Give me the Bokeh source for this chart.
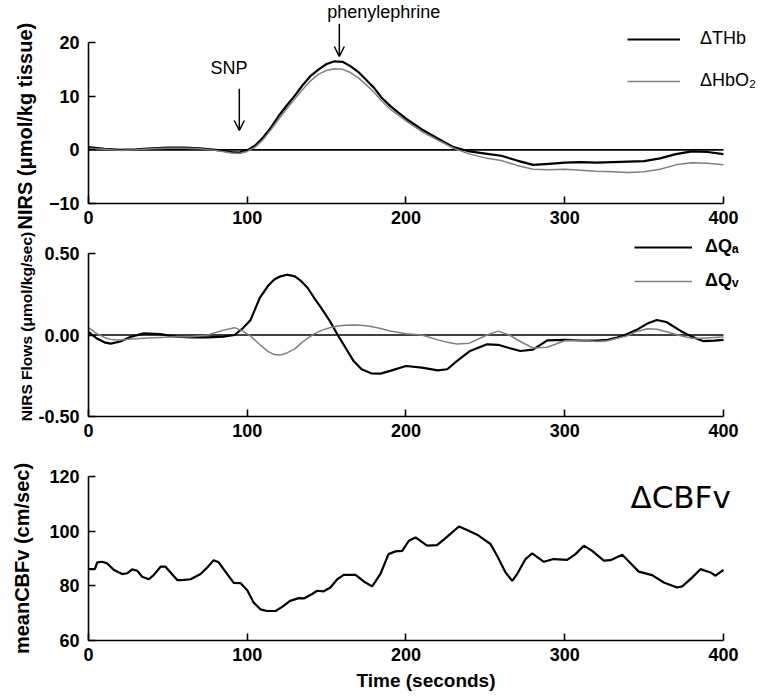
from bokeh.plotting import figure
from bokeh.models import (Label, Arrow, OpenHead, Legend, LegendItem,
                          FixedTicker, NumeralTickFormatter, Range1d)
from bokeh.layouts import column
from bokeh.embed import file_html
from bokeh.resources import INLINE

# ---------------- data ----------------
t_nirs = [0, 10, 20, 30, 40, 50, 60, 70, 80, 90, 95, 100, 105, 110, 115, 120, 125, 130,
          135, 140, 145, 150, 155, 160, 165, 170, 175, 180, 185, 190, 195, 200, 210, 220,
          230, 240, 250, 260, 270, 280, 290, 300, 310, 320, 330, 340, 350, 360, 370, 380,
          390, 400]
thb = [0.5, 0.2, 0.0, 0.1, 0.3, 0.4, 0.4, 0.3, 0.0, -0.4, -0.5, -0.1, 0.8, 2.3, 4.2, 6.4,
       8.3, 10.1, 12.1, 13.8, 15.0, 16.0, 16.5, 16.4, 15.6, 14.5, 13.0, 11.5, 9.6, 8.2, 7.0,
       5.8, 3.8, 2.1, 0.5, -0.3, -0.7, -1.1, -2.0, -2.8, -2.6, -2.4, -2.3, -2.4, -2.3, -2.2,
       -2.1, -1.6, -0.8, -0.3, -0.4, -0.8]
hbo2 = [0.3, 0.1, -0.1, 0.0, 0.2, 0.3, 0.3, 0.2, -0.1, -0.6, -0.7, -0.3, 0.5, 1.9, 3.8, 5.8,
        7.7, 9.5, 11.3, 12.9, 14.1, 14.8, 15.1, 15.0, 14.4, 13.4, 12.1, 10.7, 9.0, 7.6, 6.5,
        5.4, 3.4, 1.8, 0.3, -0.8, -1.5, -2.0, -2.9, -3.6, -3.7, -3.6, -3.8, -4.0, -4.1, -4.2,
        -4.1, -3.6, -2.8, -2.4, -2.5, -2.8]

t_flow = [0, 5, 10, 14, 20, 27, 35, 45, 55, 65, 75, 85, 92, 97, 102, 108, 113, 117, 121,
          125, 130, 134, 138, 142, 147, 152, 157, 162, 167, 172, 178, 184, 190, 200, 210,
          220, 226, 232, 240, 251, 258, 265, 272, 280, 289, 300, 310, 320, 327, 333, 339,
          345, 352, 358, 364, 373, 380, 387, 394, 400]
qa = [0.02, -0.02, -0.045, -0.053, -0.04, -0.01, 0.01, 0.005, -0.01, -0.015, -0.015, -0.01,
      0.0, 0.04, 0.09, 0.23, 0.30, 0.34, 0.36, 0.37, 0.36, 0.33, 0.29, 0.23, 0.16, 0.086,
      0.0, -0.08, -0.16, -0.21, -0.235, -0.237, -0.22, -0.19, -0.20, -0.217, -0.21, -0.16,
      -0.10, -0.057, -0.06, -0.08, -0.098, -0.09, -0.033, -0.03, -0.033, -0.035, -0.03,
      -0.015, 0.004, 0.03, 0.07, 0.092, 0.08, 0.025, -0.01, -0.037, -0.035, -0.03]
qv = [0.045, 0.01, -0.015, -0.027, -0.03, -0.025, -0.02, -0.015, -0.01, -0.01, 0.0, 0.03,
      0.045, 0.025, -0.006, -0.06, -0.10, -0.12, -0.123, -0.11, -0.085, -0.05, -0.02, 0.005,
      0.03, 0.045, 0.055, 0.06, 0.061, 0.06, 0.052, 0.04, 0.025, 0.008, 0.0, -0.03, -0.045,
      -0.055, -0.05, 0.0, 0.024, 0.0, -0.04, -0.08, -0.075, -0.035, -0.03, -0.04, -0.035,
      -0.02, -0.006, 0.02, 0.038, 0.035, 0.02, -0.005, -0.02, -0.02, -0.015, -0.012]

t_cbfv = [0, 4, 5.5, 8.6, 11.8, 16, 21.2, 24.4, 27.5, 30.7, 33.8, 38, 41.2, 45.4, 48.5, 51.7,
          55.9, 59, 64.3, 70.6, 74.8, 78.9, 82, 87.4, 91.5, 95.7, 100, 104, 108.3, 112.5,
          117.8, 122, 127, 132.5, 135.6, 140.9, 144, 148.2, 152.4, 156.7, 160.8, 168.2,
          173.4, 178.7, 184, 189, 193.4, 197.6, 201.8, 206, 213.3, 219.6, 226, 233.3, 238.5,
          244.8, 253.2, 257.4, 262.7, 266.9, 270, 275.3, 279.5, 286.8, 293.1, 301.5, 306.8,
          312, 317.3, 324.6, 328.8, 336.2, 340.4, 346.6, 355, 362.4, 370.8, 374, 380.2,
          385.5, 391.8, 395, 400]
cbfv = [86.1, 86.1, 88.6, 88.8, 88.2, 85.8, 84.3, 84.6, 86.0, 85.5, 83.3, 82.4, 84.0, 87.0,
        87.0, 84.9, 82.1, 82.1, 82.4, 84.3, 86.7, 89.4, 88.6, 84.3, 81.1, 81.0, 78.4, 73.9,
        71.4, 70.8, 70.8, 72.3, 74.5, 75.5, 75.4, 77.0, 78.2, 78.0, 79.4, 82.4, 84.0, 84.0,
        81.6, 79.8, 84.5, 91.6, 92.6, 92.8, 96.5, 97.7, 94.7, 94.9, 98.0, 101.7, 100.4, 98.7,
        95.3, 91.0, 84.9, 81.8, 84.3, 89.8, 91.9, 88.8, 89.8, 89.5, 91.6, 94.7, 92.8, 89.2,
        89.4, 91.4, 88.9, 85.2, 83.9, 81.2, 79.4, 79.8, 83.0, 86.1, 84.9, 83.7, 85.8]

x_ticks = [0, 100, 200, 300, 400]
nirs_ticks = [-10, 0, 10, 20]
flow_ticks = [-0.5, 0.0, 0.5]
cbfv_ticks = [60, 80, 100, 120]

# ---------------- styling ----------------
FONT = "Liberation Sans"
FRAME_W = 675          # frame runs to the right edge so legends are not clipped
X_END = 425.2          # 0..400 spans 635 px, as in the reference
BLACK = "#000000"
GRAY = "#808080"


def make_fig(y_start, y_end, frame_h, top, bottom, **kw):
    p = figure(frame_width=FRAME_W, frame_height=frame_h,
               x_range=Range1d(0, X_END), y_range=Range1d(y_start, y_end),
               min_border_left=88, min_border_right=0,
               min_border_top=top, min_border_bottom=bottom,
               output_backend="svg", toolbar_location=None,
               background_fill_color="white", border_fill_color="white", **kw)
    p.outline_line_color = None
    p.xgrid.visible = False
    p.ygrid.visible = False
    return p


def style_axes(p, yticks, ybounds, ylabel, ylabel_size, ylabel_standoff, fmt=None):
    p.xaxis.ticker = FixedTicker(ticks=x_ticks)
    p.yaxis.ticker = FixedTicker(ticks=yticks)
    p.xaxis.bounds = (x_ticks[0], x_ticks[-1])
    p.yaxis.bounds = ybounds
    if fmt:
        p.yaxis.formatter = NumeralTickFormatter(format=fmt)
    for ax in (p.xaxis[0], p.yaxis[0]):
        ax.axis_line_color = BLACK
        ax.axis_line_width = 1.6
        ax.major_tick_line_color = BLACK
        ax.major_tick_line_width = 1.6
        ax.major_tick_in = 7
        ax.major_tick_out = 0
        ax.minor_tick_line_color = None
        ax.major_label_text_font = FONT
        ax.major_label_text_font_style = "bold"
        ax.major_label_text_font_size = "18px"
        ax.major_label_text_color = BLACK
        ax.axis_label_text_font = FONT
        ax.axis_label_text_font_style = "bold"
        ax.axis_label_text_color = BLACK
    p.xaxis.major_label_standoff = 7
    p.yaxis.major_label_standoff = 9
    if ylabel:
        p.yaxis.axis_label = ylabel
        p.yaxis.axis_label_text_font_size = ylabel_size
        p.yaxis.axis_label_standoff = ylabel_standoff


def zero_line(p, t):
    p.segment(x0=[t[0]], y0=[0], x1=[t[-1]], y1=[0], line_color=BLACK, line_width=1.6)


def legend(p, items, x, y, font_style, spacing, glyph_w, standoff):
    lg = Legend(items=items, location=(x, y), orientation="vertical",
                padding=0, margin=0, spacing=spacing,
                glyph_width=glyph_w, glyph_height=20, label_height=20,
                label_standoff=standoff,
                label_text_font=FONT, label_text_font_size="18px",
                label_text_font_style=font_style, label_text_color=BLACK,
                background_fill_alpha=0, border_line_alpha=0)
    p.add_layout(lg)


# ---------------- panel 1: NIRS ----------------
# the y label is a left-side title so that it can sit on the -10..20 part of the axis
p1 = make_fig(-10, 27.83, 203, 0, 28, title="NIRS (\u03bcmol/kg tissue)",
              title_location="left")
p1.title.text_font = FONT
p1.title.text_font_style = "bold"
p1.title.text_font_size = "20px"
p1.title.text_color = BLACK
p1.title.align = "left"
p1.title.vertical_align = "bottom"
p1.title.offset = -26
if hasattr(p1.title, "standoff"):
    p1.title.standoff = 20
style_axes(p1, nirs_ticks, (-10, 20), None, None, None)
zero_line(p1, t_nirs)
r_thb = p1.line(t_nirs, thb, line_color=BLACK, line_width=2.2)
r_hbo2 = p1.line(t_nirs, hbo2, line_color=GRAY, line_width=1.5)
legend(p1, [LegendItem(label="\u0394THb", renderers=[r_thb]),
            LegendItem(label="\u0394HbO\u2082", renderers=[r_hbo2])],
       539, 112, "normal", 21, 53, 20)

SNP_X, SNP_TEXT_X, SNP_TEXT_Y, SNP_ARROW_TOP, SNP_ARROW_TIP = 95, 88.5, 15.3, 11.4, 3.6
PHE_X, PHE_TEXT_X, PHE_TEXT_Y, PHE_ARROW_TOP, PHE_ARROW_TIP = 158, 186, 25.6, 23.5, 17.4
p1.add_layout(Label(x=SNP_TEXT_X, y=SNP_TEXT_Y, text="SNP", text_align="center",
                    text_baseline="middle", text_font=FONT, text_font_size="18px",
                    text_color=BLACK))
p1.add_layout(Arrow(x_start=SNP_X, y_start=SNP_ARROW_TOP, x_end=SNP_X, y_end=SNP_ARROW_TIP,
                    line_width=1.5, line_color=BLACK,
                    end=OpenHead(size=10, line_width=1.5, line_color=BLACK)))
p1.add_layout(Label(x=PHE_TEXT_X, y=PHE_TEXT_Y, text="phenylephrine", text_align="center",
                    text_baseline="middle", text_font=FONT, text_font_size="18px",
                    text_color=BLACK))
p1.add_layout(Arrow(x_start=PHE_X, y_start=PHE_ARROW_TOP, x_end=PHE_X, y_end=PHE_ARROW_TIP,
                    line_width=1.5, line_color=BLACK,
                    end=OpenHead(size=10, line_width=1.5, line_color=BLACK)))

# ---------------- panel 2: NIRS flows ----------------
p2 = make_fig(-0.5, 0.6043, 180, 5, 28)
style_axes(p2, flow_ticks, (-0.5, 0.5), "NIRS Flows (\u03bcmol/kg/sec)", "15.5px", 0,
           fmt="0.00")
zero_line(p2, t_flow)
r_qa = p2.line(t_flow, qa, line_color=BLACK, line_width=2.2)
r_qv = p2.line(t_flow, qv, line_color=GRAY, line_width=1.5)
legend(p2, [LegendItem(label="\u0394Q\u2090", renderers=[r_qa]),
            LegendItem(label="\u0394Q\u1d65", renderers=[r_qv])],
       546, 125, "bold", 13, 58, 13)

# ---------------- panel 3: CBFv ----------------
p3 = make_fig(60, 120, 164, 32, 57)
style_axes(p3, cbfv_ticks, (60, 120), "meanCBFv (cm/sec)", "20px", 13)
p3.xaxis.axis_label = "Time (seconds)"
p3.xaxis.axis_label_text_font_size = "19px"
p3.xaxis.axis_label_standoff = 6
p3.line(t_cbfv, cbfv, line_color=BLACK, line_width=2.2)
p3.add_layout(Label(x=341.4, y=112.4, text="\u0394CBFv", text_align="left",
                    text_baseline="middle", text_font="DejaVu Sans",
                    text_font_size="31px", text_color=BLACK))

layout = column(p1, p2, p3, spacing=0)
open("out.html", "w").write(file_html(layout, INLINE))
